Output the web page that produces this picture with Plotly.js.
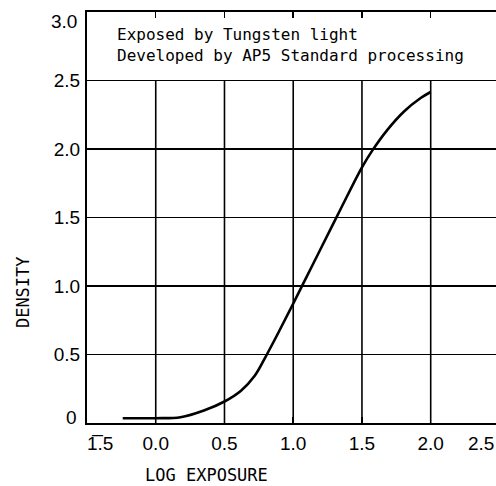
<!DOCTYPE html>
<html>
<head>
<meta charset="utf-8">
<script src="https://cdn.plot.ly/plotly-3.0.1.min.js"></script>
<style>html,body{margin:0;padding:0;background:#fff;}#chart{width:496px;height:486px;}</style>
</head>
<body>
<div id="chart"></div>
<script>
// Characteristic curve
const logExposure = [-0.24, 0.0, 0.18, 0.35, 0.50, 0.62, 0.72, 0.80, 0.90, 1.00, 1.10, 1.20, 1.345, 1.50, 1.576, 1.685, 1.806, 1.927, 2.00];
const density     = [0.035, 0.035, 0.042, 0.091, 0.157, 0.236, 0.345, 0.485, 0.675, 0.872, 1.072, 1.272, 1.562, 1.866, 1.99, 2.14, 2.274, 2.372, 2.416];

const xTickVals = [-0.5, 0.0, 0.5, 1.0, 1.5, 2.0, 2.5];
const xTickText = ["1\u0305.5", "0.0", "0.5", "1.0", "1.5", "2.0", "2.5"];
const yTickVals = [0, 0.5, 1.0, 1.5, 2.0, 2.5, 3.0];
const yTickText = ["0", "0.5", "1.0", "1.5", "2.0", "2.5", "3.0"];
const vGridVals = [0.0, 0.5, 1.0, 1.5, 2.0];
const noteLines = ["Exposed by Tungsten light", "Developed by AP5 Standard processing"];

const xRange = [-0.5, 2.475];
const yRange = [0, 3.0];
const gridTop = 2.5;

const tickFont = {family: "Liberation Sans, Arial, sans-serif", size: 19, color: "#000"};
const monoFont = {family: "DejaVu Sans Mono, monospace", size: 16, color: "#000"};

// inner ticks drawn by axis; end labels shifted inward like the reference
const xAxisText = xTickText.map((t, i) => (i === 0 || i === xTickText.length - 1) ? "" : t);
const yAxisText = yTickText.map((t, i) => (i === 0 || i === yTickText.length - 1) ? "" : t);

const shapes = vGridVals.map(v => ({
  type: "line", xref: "x", yref: "y", x0: v, x1: v, y0: yRange[0], y1: gridTop,
  line: {color: "#000", width: 1.6}, layer: "below"
}));

const xFrac = v => (v - xRange[0]) / (xRange[1] - xRange[0]);
const yFrac = v => (v - yRange[0]) / (yRange[1] - yRange[0]);

const annotations = [
  {xref: "paper", yref: "paper", x: xFrac(xTickVals[0]), y: 0, xshift: 13, yshift: -20,
   text: xTickText[0], showarrow: false, font: tickFont, xanchor: "center", yanchor: "middle"},
  {xref: "paper", yref: "paper", x: xFrac(xTickVals[xTickVals.length - 1]), y: 0, xshift: -18, yshift: -20,
   text: xTickText[xTickText.length - 1], showarrow: false, font: tickFont, xanchor: "center", yanchor: "middle"},
  {xref: "paper", yref: "paper", x: 0, y: yFrac(yTickVals[0]), xshift: -8, yshift: 6,
   text: yTickText[0], showarrow: false, font: tickFont, xanchor: "right", yanchor: "middle"},
  {xref: "paper", yref: "paper", x: 0, y: yFrac(yTickVals[yTickVals.length - 1]), xshift: -8, yshift: -9,
   text: yTickText[yTickText.length - 1], showarrow: false, font: tickFont, xanchor: "right", yanchor: "middle"},
  {xref: "paper", yref: "paper", x: 0.068, y: 0.92, text: noteLines.join("<br>"), showarrow: false,
   font: monoFont, xanchor: "left", yanchor: "middle", align: "left"},
  {xref: "paper", yref: "paper", x: -0.156, y: 0.319, text: "DENSITY", showarrow: false, textangle: -90,
   font: {family: "DejaVu Sans Mono, monospace", size: 17, color: "#000"}, xanchor: "center", yanchor: "middle"},
  {xref: "paper", yref: "paper", x: 0.293, y: -0.127, text: "LOG EXPOSURE", showarrow: false,
   font: {family: "DejaVu Sans Mono, monospace", size: 17, color: "#000"}, xanchor: "center", yanchor: "middle"}
];

const trace = {
  x: logExposure, y: density, type: "scatter", mode: "lines",
  line: {color: "#000", width: 2.6, shape: "spline", smoothing: 1},
  hoverinfo: "skip", showlegend: false, cliponaxis: false
};

const layout = {
  width: 496, height: 486,
  margin: {l: 87, r: 0, t: 12, b: 63},
  paper_bgcolor: "#fff", plot_bgcolor: "#fff",
  showlegend: false,
  xaxis: {
    range: xRange, tickmode: "array", tickvals: xTickVals, ticktext: xAxisText,
    showgrid: false, zeroline: false, showline: true, linecolor: "#000", linewidth: 2,
    mirror: "ticks", ticks: "inside", ticklen: 6, tickwidth: 1.5, tickcolor: "#000",
    tickfont: tickFont, ticklabelstandoff: 2
  },
  yaxis: {
    range: yRange, tickmode: "array", tickvals: yTickVals, ticktext: yAxisText,
    showgrid: true, gridcolor: "#000", gridwidth: 1.6, zeroline: false,
    showline: true, linecolor: "#000", linewidth: 2, mirror: false, ticks: "",
    tickfont: tickFont, ticklabelstandoff: 1
  },
  shapes: shapes,
  annotations: annotations
};

Plotly.newPlot("chart", [trace], layout, {staticPlot: true, displayModeBar: false});
</script>
</body>
</html>
